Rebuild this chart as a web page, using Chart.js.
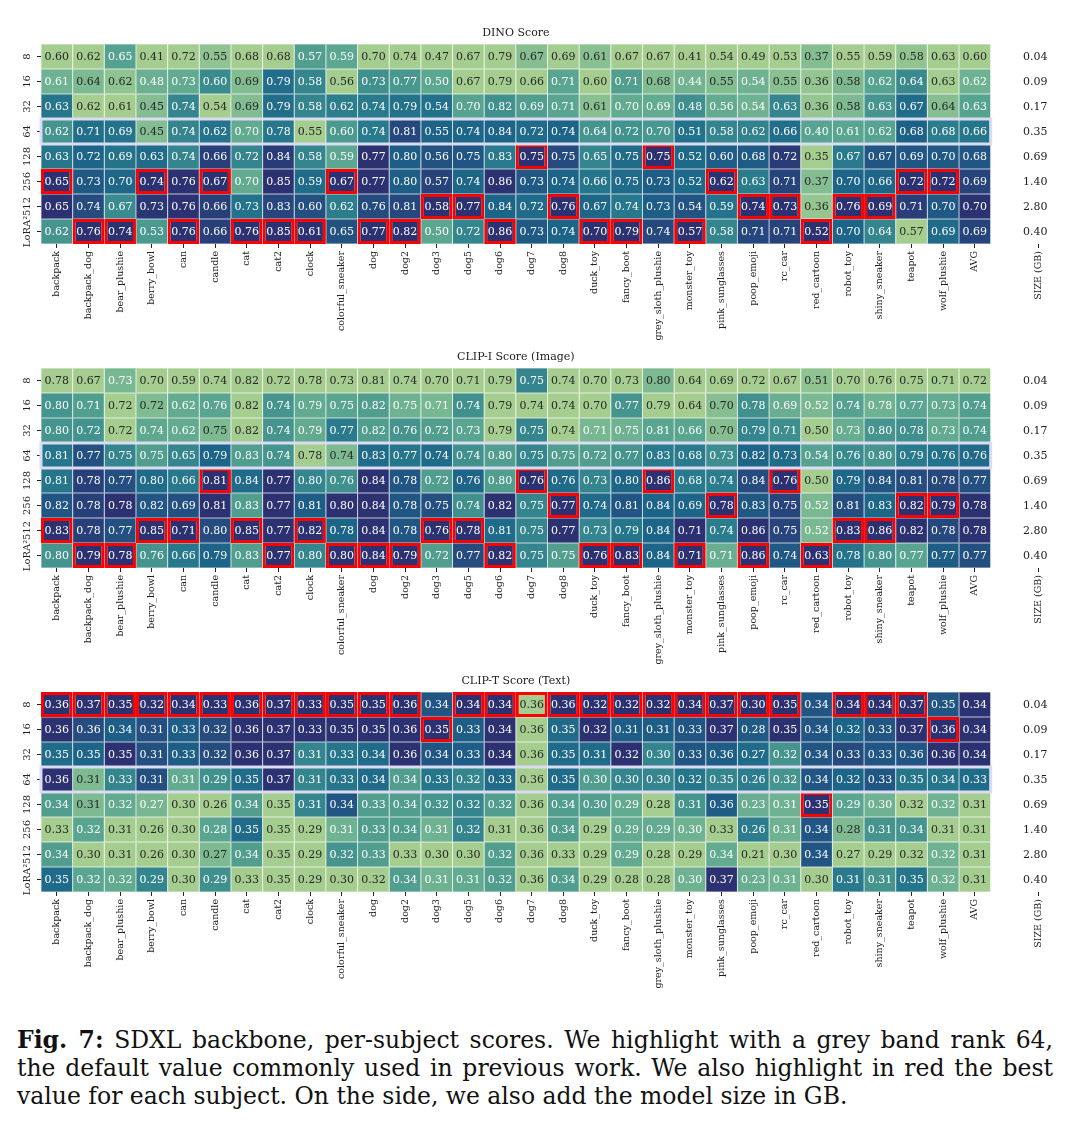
<!DOCTYPE html>
<html lang="en">
<head>
    <meta charset="UTF-8">
    <title>SDXL backbone, per-subject scores</title>
    <script src="https://cdn.jsdelivr.net/npm/chart.js"></script>
    <style>
        body {
            margin: 0;
            background: #fff;
            width: 1071px;
            height: 1130px;
            position: relative;
            overflow: hidden;
        }
        .panel {
            position: absolute;
            left: 0;
        }
        .caption {
            position: absolute;
            left: 17px;
            top: 1026px;
            width: 1036px;
            font-family: "DejaVu Serif", serif;
            font-size: 23.5px;
            line-height: 28px;
            color: #111;
        }
        .caption div {
            text-align: justify;
            text-align-last: justify;
            white-space: nowrap;
        }
        .caption div.last {
            text-align-last: left;
        }
    </style>
</head>
<body>
    <canvas id="dinoChart" class="panel" width="1071" height="344" style="top:0px"></canvas>
    <canvas id="clipIChart" class="panel" width="1071" height="344" style="top:324px"></canvas>
    <canvas id="clipTChart" class="panel" width="1071" height="344" style="top:648px"></canvas>

    <div class="caption">
        <div><b>Fig. 7:</b> SDXL backbone, per-subject scores. We highlight with a grey band rank 64,</div>
        <div>the default value commonly used in previous work. We also highlight in red the best</div>
        <div class="last">value for each subject. On the side, we also add the model size in GB.</div>
    </div>

    <script>
        // ---- data ----
        const subjects = ['backpack', 'backpack_dog', 'bear_plushie', 'berry_bowl', 'can', 'candle', 'cat', 'cat2',
            'clock', 'colorful_sneaker', 'dog', 'dog2', 'dog3', 'dog5', 'dog6', 'dog7', 'dog8', 'duck_toy',
            'fancy_boot', 'grey_sloth_plushie', 'monster_toy', 'pink_sunglasses', 'poop_emoji', 'rc_car',
            'red_cartoon', 'robot_toy', 'shiny_sneaker', 'teapot', 'wolf_plushie', 'AVG'];
        const ranks = ['8', '16', '32', '64', '128', '256', '512', 'LoRA\u00b2'];
        const sizeGB = ['0.04', '0.09', '0.17', '0.35', '0.69', '1.40', '2.80', '0.40'];
        const sizeLabel = 'SIZE (GB)';

        const dinoScores = [
            [0.60, 0.62, 0.65, 0.41, 0.72, 0.55, 0.68, 0.68, 0.57, 0.59, 0.70, 0.74, 0.47, 0.67, 0.79, 0.67, 0.69, 0.61, 0.67, 0.67, 0.41, 0.54, 0.49, 0.53, 0.37, 0.55, 0.59, 0.58, 0.63, 0.60],
            [0.61, 0.64, 0.62, 0.48, 0.73, 0.60, 0.69, 0.79, 0.58, 0.56, 0.73, 0.77, 0.50, 0.67, 0.79, 0.66, 0.71, 0.60, 0.71, 0.68, 0.44, 0.55, 0.54, 0.55, 0.36, 0.58, 0.62, 0.64, 0.63, 0.62],
            [0.63, 0.62, 0.61, 0.45, 0.74, 0.54, 0.69, 0.79, 0.58, 0.62, 0.74, 0.79, 0.54, 0.70, 0.82, 0.69, 0.71, 0.61, 0.70, 0.69, 0.48, 0.56, 0.54, 0.63, 0.36, 0.58, 0.63, 0.67, 0.64, 0.63],
            [0.62, 0.71, 0.69, 0.45, 0.74, 0.62, 0.70, 0.78, 0.55, 0.60, 0.74, 0.81, 0.55, 0.74, 0.84, 0.72, 0.74, 0.64, 0.72, 0.70, 0.51, 0.58, 0.62, 0.66, 0.40, 0.61, 0.62, 0.68, 0.68, 0.66],
            [0.63, 0.72, 0.69, 0.63, 0.74, 0.66, 0.72, 0.84, 0.58, 0.59, 0.77, 0.80, 0.56, 0.75, 0.83, 0.75, 0.75, 0.65, 0.75, 0.75, 0.52, 0.60, 0.68, 0.72, 0.35, 0.67, 0.67, 0.69, 0.70, 0.68],
            [0.65, 0.73, 0.70, 0.74, 0.76, 0.67, 0.70, 0.85, 0.59, 0.67, 0.77, 0.80, 0.57, 0.74, 0.86, 0.73, 0.74, 0.66, 0.75, 0.73, 0.52, 0.62, 0.63, 0.71, 0.37, 0.70, 0.66, 0.72, 0.72, 0.69],
            [0.65, 0.74, 0.67, 0.73, 0.76, 0.66, 0.73, 0.83, 0.60, 0.62, 0.76, 0.81, 0.58, 0.77, 0.84, 0.72, 0.76, 0.67, 0.74, 0.73, 0.54, 0.59, 0.74, 0.73, 0.36, 0.76, 0.69, 0.71, 0.70, 0.70],
            [0.62, 0.76, 0.74, 0.53, 0.76, 0.66, 0.76, 0.85, 0.61, 0.65, 0.77, 0.82, 0.50, 0.72, 0.86, 0.73, 0.74, 0.70, 0.79, 0.74, 0.57, 0.58, 0.71, 0.71, 0.52, 0.70, 0.64, 0.57, 0.69, 0.69]
        ];
        // row index of the red box for each column (-1 = none)
        const dinoBest = [5, 7, 7, 5, 7, 5, 7, 7, 7, 5, 7, 7, 6, 6, 7, 4, 6, 7, 7, 4, 7, 5, 6, 6, 7, 6, 6, 5, 5, -1];

        const clipIScores = [
            [0.78, 0.67, 0.73, 0.70, 0.59, 0.74, 0.82, 0.72, 0.78, 0.73, 0.81, 0.74, 0.70, 0.71, 0.79, 0.75, 0.74, 0.70, 0.73, 0.80, 0.64, 0.69, 0.72, 0.67, 0.51, 0.70, 0.76, 0.75, 0.71, 0.72],
            [0.80, 0.71, 0.72, 0.72, 0.62, 0.76, 0.82, 0.74, 0.79, 0.75, 0.82, 0.75, 0.71, 0.74, 0.79, 0.74, 0.74, 0.70, 0.77, 0.79, 0.64, 0.70, 0.78, 0.69, 0.52, 0.74, 0.78, 0.77, 0.73, 0.74],
            [0.80, 0.72, 0.72, 0.74, 0.62, 0.75, 0.82, 0.74, 0.79, 0.77, 0.82, 0.76, 0.72, 0.73, 0.79, 0.75, 0.74, 0.71, 0.75, 0.81, 0.66, 0.70, 0.79, 0.71, 0.50, 0.73, 0.80, 0.78, 0.73, 0.74],
            [0.81, 0.77, 0.75, 0.75, 0.65, 0.79, 0.83, 0.74, 0.78, 0.74, 0.83, 0.77, 0.74, 0.74, 0.80, 0.75, 0.75, 0.72, 0.77, 0.83, 0.68, 0.73, 0.82, 0.73, 0.54, 0.76, 0.80, 0.79, 0.76, 0.76],
            [0.81, 0.78, 0.77, 0.80, 0.66, 0.81, 0.84, 0.77, 0.80, 0.76, 0.84, 0.78, 0.72, 0.76, 0.80, 0.76, 0.76, 0.73, 0.80, 0.86, 0.68, 0.74, 0.84, 0.76, 0.50, 0.79, 0.84, 0.81, 0.78, 0.77],
            [0.82, 0.78, 0.78, 0.82, 0.69, 0.81, 0.83, 0.77, 0.81, 0.80, 0.84, 0.78, 0.75, 0.74, 0.82, 0.75, 0.77, 0.74, 0.81, 0.84, 0.69, 0.78, 0.83, 0.75, 0.52, 0.81, 0.83, 0.82, 0.79, 0.78],
            [0.83, 0.78, 0.77, 0.85, 0.71, 0.80, 0.85, 0.77, 0.82, 0.78, 0.84, 0.78, 0.76, 0.78, 0.81, 0.75, 0.77, 0.73, 0.79, 0.84, 0.71, 0.74, 0.86, 0.75, 0.52, 0.83, 0.86, 0.82, 0.78, 0.78],
            [0.80, 0.79, 0.78, 0.76, 0.66, 0.79, 0.83, 0.77, 0.80, 0.80, 0.84, 0.79, 0.72, 0.77, 0.82, 0.75, 0.75, 0.76, 0.83, 0.84, 0.71, 0.71, 0.86, 0.74, 0.63, 0.78, 0.80, 0.77, 0.77, 0.77]
        ];
        const clipIBest = [6, 7, 7, 6, 6, 4, 6, 7, 6, 7, 7, 7, 6, 6, 7, 4, 5, 7, 7, 4, 7, 5, 7, 4, 7, 6, 6, 5, 5, -1];

        const clipTScores = [
            [0.36, 0.37, 0.35, 0.32, 0.34, 0.33, 0.36, 0.37, 0.33, 0.35, 0.35, 0.36, 0.34, 0.34, 0.34, 0.36, 0.36, 0.32, 0.32, 0.32, 0.34, 0.37, 0.30, 0.35, 0.34, 0.34, 0.34, 0.37, 0.35, 0.34],
            [0.36, 0.36, 0.34, 0.31, 0.33, 0.32, 0.36, 0.37, 0.33, 0.35, 0.35, 0.36, 0.35, 0.33, 0.34, 0.36, 0.35, 0.32, 0.31, 0.31, 0.33, 0.37, 0.28, 0.35, 0.34, 0.32, 0.33, 0.37, 0.36, 0.34],
            [0.35, 0.35, 0.35, 0.31, 0.33, 0.32, 0.36, 0.37, 0.31, 0.33, 0.34, 0.36, 0.34, 0.33, 0.34, 0.36, 0.35, 0.31, 0.32, 0.30, 0.33, 0.36, 0.27, 0.32, 0.34, 0.33, 0.33, 0.36, 0.36, 0.34],
            [0.36, 0.31, 0.33, 0.31, 0.31, 0.29, 0.35, 0.37, 0.31, 0.33, 0.34, 0.34, 0.33, 0.32, 0.33, 0.36, 0.35, 0.30, 0.30, 0.30, 0.32, 0.35, 0.26, 0.32, 0.34, 0.32, 0.33, 0.35, 0.34, 0.33],
            [0.34, 0.31, 0.32, 0.27, 0.30, 0.26, 0.34, 0.35, 0.31, 0.34, 0.33, 0.34, 0.32, 0.32, 0.32, 0.36, 0.34, 0.30, 0.29, 0.28, 0.31, 0.36, 0.23, 0.31, 0.35, 0.29, 0.30, 0.32, 0.32, 0.31],
            [0.33, 0.32, 0.31, 0.26, 0.30, 0.28, 0.35, 0.35, 0.29, 0.31, 0.33, 0.34, 0.31, 0.32, 0.31, 0.36, 0.34, 0.29, 0.29, 0.29, 0.30, 0.33, 0.26, 0.31, 0.34, 0.28, 0.31, 0.34, 0.31, 0.31],
            [0.34, 0.30, 0.31, 0.26, 0.30, 0.27, 0.34, 0.35, 0.29, 0.32, 0.33, 0.33, 0.30, 0.30, 0.32, 0.36, 0.33, 0.29, 0.29, 0.28, 0.29, 0.34, 0.21, 0.30, 0.34, 0.27, 0.29, 0.32, 0.32, 0.31],
            [0.35, 0.32, 0.32, 0.29, 0.30, 0.29, 0.33, 0.35, 0.29, 0.30, 0.32, 0.34, 0.31, 0.31, 0.32, 0.36, 0.34, 0.29, 0.28, 0.28, 0.30, 0.37, 0.23, 0.31, 0.30, 0.31, 0.31, 0.35, 0.32, 0.31]
        ];
        const clipTBest = [0, 0, 0, 0, 0, 0, 0, 0, 0, 0, 0, 0, 1, 0, 0, 0, 0, 0, 0, 0, 0, 0, 0, 0, 4, 0, 0, 0, 1, -1];

        // ---- colours (seaborn "crest", each column normalised on its own) ----
        const crest = ['#a5cd90', '#7dba91', '#59a590', '#40908e', '#287a8c', '#1c6488', '#254b7f', '#2c3172'];
        const fontFamily = "'DejaVu Serif', serif";

        function hexRgb(h) {
            return [1, 3, 5].map(i => parseInt(h.slice(i, i + 2), 16));
        }

        function crestRgb(t) {
            const n = crest.length - 1;
            const pos = Math.min(Math.max(t, 0), 1) * n;
            const i = Math.min(Math.floor(pos), n - 1);
            const f = pos - i;
            const a = hexRgb(crest[i]), b = hexRgb(crest[i + 1]);
            return a.map((v, k) => Math.round(v + (b[k] - v) * f));
        }

        function luminance(rgb) {
            const lin = rgb.map(v => {
                v /= 255;
                return v <= 0.03928 ? v / 12.92 : Math.pow((v + 0.055) / 1.055, 2.4);
            });
            return 0.2126 * lin[0] + 0.7152 * lin[1] + 0.0722 * lin[2];
        }

        function cellRgb(scores, r, c) {
            const col = scores.map(row => row[c]);
            const lo = Math.min(...col), hi = Math.max(...col);
            const t = hi > lo ? (scores[r][c] - lo) / (hi - lo) : 0;
            return crestRgb(t);
        }

        const rgbStr = rgb => `rgb(${rgb[0]},${rgb[1]},${rgb[2]})`;
        const lighten = (rgb, k) => rgb.map(v => Math.round(v + (255 - v) * k));

        // draws annotations, rank labels, size column, grey band and panel title
        const heatmapText = {
            id: 'heatmapText',
            afterDatasetsDraw(chart, args, opts) {
                const {ctx, chartArea, scales: {x, y}} = chart;
                const colW = x.getPixelForValue(1) - x.getPixelForValue(0);
                const left = x.getPixelForValue(0) - colW / 2;
                const right = x.getPixelForValue(subjects.length - 1) + colW / 2;
                ctx.save();

                // grey band around rank 64
                const bandRow = ranks.indexOf('64');
                ctx.strokeStyle = '#dadcf2';
                ctx.lineWidth = 3;
                const bTop = y.getPixelForValue(bandRow), bBot = y.getPixelForValue(bandRow + 1);
                ctx.strokeRect(left, bTop, right - left, bBot - bTop);

                // cell values
                ctx.font = `11px ${fontFamily}`;
                ctx.textAlign = 'center';
                ctx.textBaseline = 'middle';
                chart.data.datasets.forEach((ds, r) => {
                    chart.getDatasetMeta(r).data.forEach((bar, c) => {
                        if (c >= subjects.length) return;
                        ctx.fillStyle = ds.textColor[c];
                        ctx.fillText(opts.scores[r][c].toFixed(2), bar.x, (bar.y + bar.base) / 2 + 0.5);
                    });
                });

                // model size column
                ctx.fillStyle = '#222';
                const sx = x.getPixelForValue(subjects.length + 1) - 3;
                sizeGB.forEach((s, r) => ctx.fillText(s, sx, y.getPixelForValue(r + 0.5) + 0.5));

                // rank labels, rotated like the original
                ctx.font = `10px ${fontFamily}`;
                ranks.forEach((lab, r) => {
                    ctx.save();
                    ctx.translate(chartArea.left - 14, y.getPixelForValue(r + 0.5));
                    ctx.rotate(-Math.PI / 2);
                    ctx.fillText(lab, 0, 0);
                    ctx.restore();
                });

                // title
                ctx.font = `11px ${fontFamily}`;
                ctx.fillText(opts.title, (left + right) / 2, chartArea.top - 11);
                ctx.restore();
            }
        };

        function makePanel(canvasId, title, scores, best) {
            const datasets = ranks.map((rank, r) => {
                const rgbs = subjects.map((s, c) => cellRgb(scores, r, c));
                return {
                    label: rank,
                    data: subjects.map(() => 1),   // every cell is one unit tall
                    backgroundColor: rgbs.map(rgbStr),
                    borderColor: rgbs.map((rgb, c) => best[c] === r ? '#ff0000' : rgbStr(lighten(rgb, 0.45))),
                    borderWidth: subjects.map((s, c) => best[c] === r ? 3 : 0.5),
                    textColor: rgbs.map(rgb => luminance(rgb) > 0.408 ? '#262626' : '#ffffff'),
                    borderSkipped: false,
                    inflateAmount: 0,
                    barPercentage: 1,
                    categoryPercentage: 1
                };
            });

            return new Chart(document.getElementById(canvasId), {
                type: 'bar',
                data: {
                    labels: [...subjects, '', sizeLabel],
                    datasets: datasets
                },
                options: {
                    responsive: false,
                    animation: false,
                    devicePixelRatio: 1,
                    layout: {padding: {top: 44, right: 17, left: 0, bottom: 0}},
                    plugins: {
                        legend: {display: false},
                        tooltip: {enabled: false},
                        heatmapText: {title: title, scores: scores}
                    },
                    scales: {
                        x: {
                            stacked: true,
                            border: {display: false},
                            grid: {
                                offset: false,
                                drawOnChartArea: false,
                                tickLength: 4,
                                tickColor: c => c.index === subjects.length ? 'rgba(0,0,0,0)' : '#222'
                            },
                            ticks: {
                                autoSkip: false,
                                minRotation: 90,
                                maxRotation: 90,
                                padding: 3,
                                color: '#222',
                                font: {family: fontFamily, size: 9.5}
                            },
                            afterFit: s => { s.height = 100; }
                        },
                        y: {
                            type: 'linear',
                            stacked: true,
                            reverse: true,
                            min: 0,
                            max: ranks.length,
                            border: {display: false},
                            grid: {drawOnChartArea: false, tickLength: 4, tickColor: '#222'},
                            ticks: {display: false},
                            afterBuildTicks: s => { s.ticks = ranks.map((r, i) => ({value: i + 0.5})); },
                            afterFit: s => { s.width = 41; }
                        }
                    }
                },
                plugins: [heatmapText]
            });
        }

        makePanel('dinoChart', 'DINO Score', dinoScores, dinoBest);
        makePanel('clipIChart', 'CLIP-I Score (Image)', clipIScores, clipIBest);
        makePanel('clipTChart', 'CLIP-T Score (Text)', clipTScores, clipTBest);
    </script>
</body>
</html>
